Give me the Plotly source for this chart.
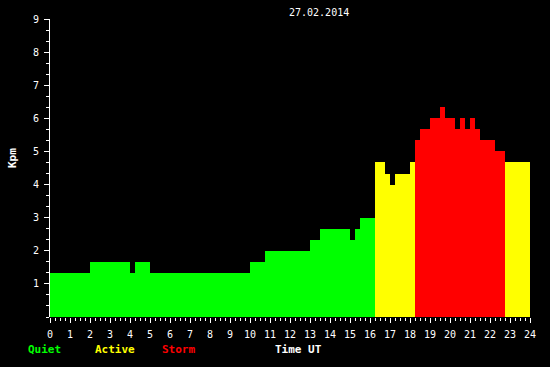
import numpy as np
import plotly.graph_objects as go

# Kpm values, one per 15-minute interval (00:00 .. 23:45 UT), 27.02.2014
kpm = [
    1.333, 1.333, 1.333, 1.333, 1.333, 1.333, 1.333, 1.333,
    1.667, 1.667, 1.667, 1.667, 1.667, 1.667, 1.667, 1.667,
    1.333, 1.667, 1.667, 1.667,
    1.333, 1.333, 1.333, 1.333, 1.333, 1.333, 1.333, 1.333, 1.333, 1.333,
    1.333, 1.333, 1.333, 1.333, 1.333, 1.333, 1.333, 1.333, 1.333, 1.333,
    1.667, 1.667, 1.667,
    2.000, 2.000, 2.000, 2.000, 2.000, 2.000, 2.000, 2.000, 2.000,
    2.333, 2.333,
    2.667, 2.667, 2.667, 2.667, 2.667, 2.667,
    2.333, 2.667,
    3.000, 3.000, 3.000,
    4.667, 4.667, 4.333, 4.000, 4.333, 4.333, 4.333, 4.667,
    5.333, 5.667, 5.667, 6.000, 6.000, 6.333, 6.000, 6.000,
    5.667, 6.000, 5.667, 6.000, 5.667,
    5.333, 5.333, 5.333, 5.000, 5.000,
    4.667, 4.667, 4.667, 4.667, 4.667,
]
bin_hours = 0.25
x_ticks = list(range(0, 25))
y_ticks = list(range(1, 10))
title_text = "27.02.2014"
levels = [("Quiet", "#00ff00"), ("Active", "#ffff00"), ("Storm", "#ff0000")]

x_centers = np.arange(len(kpm)) * bin_hours + bin_hours / 2


def colour(v):
    if v >= 5:
        return "#ff0000"
    if v >= 4:
        return "#ffff00"
    return "#00ff00"


colors = [colour(v) for v in kpm]

fig = go.Figure(
    go.Bar(
        x=x_centers,
        y=kpm,
        width=bin_hours,
        marker=dict(color=colors, line=dict(width=0)),
        showlegend=False,
        hoverinfo="skip",
    )
)

font_mono = "DejaVu Sans Mono"
W, H = 550, 367
L, R, T, B = 50, 20, 19, 50
pw, ph = W - L - R, H - T - B


def px(xp):
    return (xp - L) / pw


def py(yp):
    return (H - B - yp) / ph


fig.update_layout(
    width=W,
    height=H,
    margin=dict(l=L, r=R, t=T, b=B, pad=0),
    paper_bgcolor="black",
    plot_bgcolor="black",
    bargap=0,
    font=dict(family=font_mono, size=10, color="white"),
    xaxis=dict(
        range=[0, 24],
        tickvals=x_ticks,
        ticktext=[str(t) for t in x_ticks],
        ticks="outside",
        ticklen=5,
        tickwidth=1,
        tickcolor="white",
        ticklabelstandoff=3,
        showgrid=False,
        zeroline=False,
        showline=False,
        tickfont=dict(family=font_mono, size=10, color="white"),
        minor=dict(dtick=0.25, ticks="outside", ticklen=3, tickcolor="white", tickwidth=1, showgrid=False),
        fixedrange=True,
        layer="below traces",
    ),
    yaxis=dict(
        range=[0, 9],
        tickvals=y_ticks,
        ticktext=[str(t) for t in y_ticks],
        ticks="outside",
        ticklen=5,
        tickwidth=1,
        tickcolor="white",
        ticklabelstandoff=3,
        showgrid=False,
        zeroline=False,
        showline=True,
        linecolor="white",
        linewidth=1,
        tickfont=dict(family=font_mono, size=10, color="white"),
        minor=dict(dtick=1 / 3, tick0=0, ticks="outside", ticklen=3, tickcolor="white", tickwidth=1, showgrid=False),
        fixedrange=True,
        layer="below traces",
    ),
)

annotations = [
    dict(text=title_text, x=px(319), y=py(12), font=dict(family=font_mono, size=10, color="white")),
    dict(text="<b>Kpm</b>", x=px(12), y=py(158), textangle=-90,
         font=dict(family=font_mono, size=11, color="white")),
    dict(text="<b>Time UT</b>", x=px(298), y=py(349), font=dict(family=font_mono, size=11, color="white")),
]
for (name, col), cx in zip(levels, [44.5, 114.5, 178]):
    annotations.append(dict(text="<b>%s</b>" % name, x=px(cx), y=py(349),
                            font=dict(family=font_mono, size=11, color=col)))
for a in annotations:
    a.update(xref="paper", yref="paper", showarrow=False, xanchor="center", yanchor="middle")
fig.update_layout(annotations=annotations)

fig.write_html("out.html")
